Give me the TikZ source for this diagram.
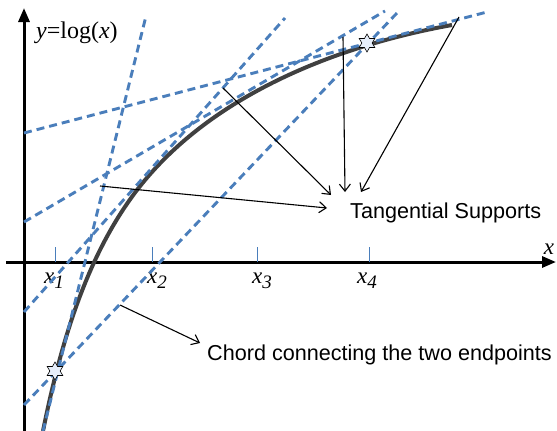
\documentclass[tikz,border=0pt]{standalone}
\usepackage{fontspec}
\setmainfont{Liberation Serif}
\setsansfont{Liberation Sans}
\usetikzlibrary{arrows.meta,shapes.geometric}
\definecolor{tanblue}{RGB}{74,126,187}
\definecolor{curvegray}{RGB}{64,64,64}
\definecolor{starfill}{RGB}{230,238,250}

\begin{document}
\begin{tikzpicture}[x=1pt,y=-1pt,
      ax/.style={line width=3pt,-{Triangle[length=14pt,width=11pt]}},
      tl/.style={tanblue,line width=2.9pt,dash pattern=on 8pt off 5pt},
      tk/.style={tanblue,line width=1pt},
      pt/.style={star,star points=6,star point ratio=1.75,draw,fill=starfill,
        inner sep=0pt,minimum size=18pt,line width=.6pt},
      lbl/.style={font=\fontsize{21.6}{24}\selectfont\sffamily,inner sep=0pt},
      xl/.style={font=\fontsize{23}{26}\selectfont\itshape,inner sep=0pt},
      a/.style={-{Straight Barb[length=7pt,width=11pt]},line width=1.1pt}]
  \useasboundingbox (0,0) rectangle (557,431);
  % axes
  \coordinate (xs) at (6,262);
  \coordinate (xe) at (556,262);
  \coordinate (ys) at (24,431);
  \coordinate (ye) at (24,8);
  \draw[ax] (xs) -- (xe);
  \draw[ax] (ys) -- (ye);
  \node[xl,anchor=base] (xlab) at (549,254) {x};
  \node[font=\fontsize{24}{26}\selectfont,inner sep=0pt,anchor=base west] (ylab) at (36,38)
    {\textit{y}=log(\textit{x})};
  % ticks and labels
  \foreach \i/\x/\c in {1/55/54,2/152/157,3/257/262,4/369/367}{
    \coordinate (t\i) at (\x,262);
    \coordinate (u\i) at (\x,247);
    \draw[tk] (t\i) -- (u\i);
    \node[xl,anchor=base] (x\i) at (\c,283)
      {x\raisebox{-5pt}{\fontsize{19}{20}\selectfont\i}};
  }
  % the curve
  \coordinate (c0) at (43,431);
  \coordinate (c1) at (137,190);
  \coordinate (c2) at (452,25);
  \draw[curvegray,line width=4pt] (c0) .. controls (60,347) and (85,258) .. (c1)
    .. controls (209.5,96) and (335,46) .. (c2);
  % tangent lines and chord
  \coordinate (l1a) at (43,431);  \coordinate (l1b) at (146,16);
  \coordinate (l2a) at (24,312);  \coordinate (l2b) at (285,18);
  \coordinate (l3a) at (24,222);  \coordinate (l3b) at (385,11);
  \coordinate (l4a) at (24,133);  \coordinate (l4b) at (487,12);
  \coordinate (cha) at (24,405);  \coordinate (chb) at (397,13);
  \draw[tl] (l1a) -- (l1b);
  \draw[tl] (l2a) -- (l2b);
  \draw[tl] (l3a) -- (l3b);
  \draw[tl] (l4a) -- (l4b);
  \draw[tl] (cha) -- (chb);
  % endpoints
  \node[pt] (p1) at (55,371) {};
  \node[pt] (p2) at (367,43) {};
  % labels
  \node[lbl,anchor=base west] (tang) at (350,218) {Tangential Supports};
  \node[lbl,anchor=base west] (chord) at (207,360) {Chord connecting the two endpoints};
  % arrows
  \coordinate (s1) at (100,186);  \coordinate (e1) at (327,208);
  \coordinate (s2) at (223,88);   \coordinate (e2) at (331,195);
  \coordinate (s3) at (343,37);   \coordinate (e3) at (345,192);
  \coordinate (s4) at (459,17);   \coordinate (e4) at (361,192);
  \coordinate (s5) at (120,305);  \coordinate (e5) at (200,343);
  \draw[a] (s1) -- (e1);
  \draw[a] (s2) -- (e2);
  \draw[a] (s3) -- (e3);
  \draw[a] (s4) -- (e4);
  \draw[a] (s5) -- (e5);
\end{tikzpicture}
\end{document}
